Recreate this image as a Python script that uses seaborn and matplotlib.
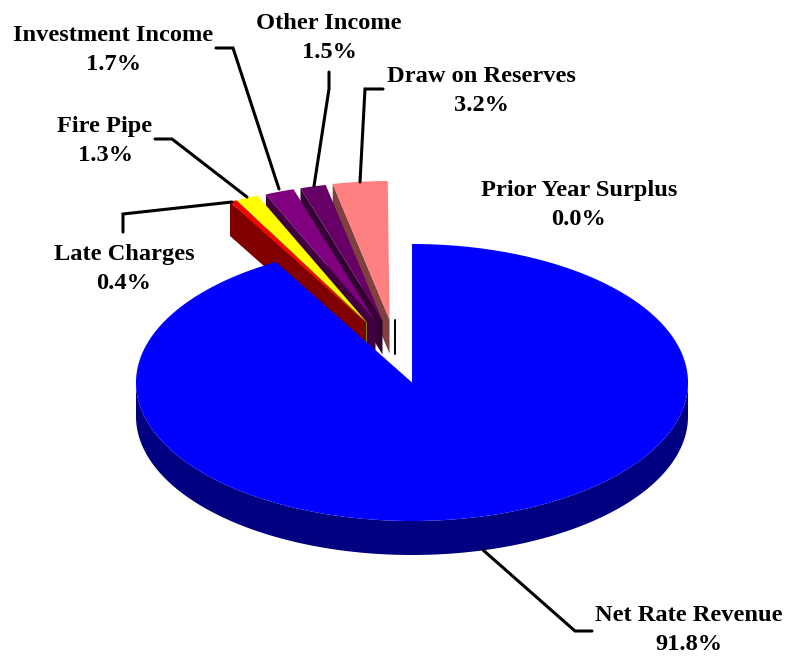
import numpy as np
import matplotlib
matplotlib.use("Agg")
import matplotlib.pyplot as plt
import seaborn as sns

labels = ["Net Rate Revenue", "Late Charges", "Fire Pipe", "Investment Income",
          "Other Income", "Draw on Reserves", "Prior Year Surplus"]
shares = [91.8, 0.4, 1.3, 1.7, 1.5, 3.2, 0.0]
tops = ["#0000ff", "#ff0000", "#ffff00", "#800080", "#660066", "#ff8080", "#000000"]
sides = ["#000080", "#800000", "#808000", "#400040", "#330033", "#804040", "#000000"]

# layout, in picture pixels
cx, cy = 412, 382.5
rx, ry = 276, 138.5
depth = 34
# how far each slice is pulled out of the pie
pull = [(0, 0), (-46, -60), (-45, -60), (-36.5, -61), (-29.5, -62), (-22.5, -63), (-17, -63)]
label_xy = [(689, 630), (124, 269), (105, 141), (113.5, 50), (329, 38), (481, 91), (579, 205)]
leaders = [[(483, 550), (575, 631), (592, 631)],
           [(232, 202), (123, 214), (123, 232)],
           [(247, 197), (172, 139), (155, 139)],
           [(279, 189), (233, 48), (216, 48)],
           [(314, 186), (329, 89), (329, 72)],
           [(360, 182), (365, 89), (383, 89)]]

sns.set_theme(style="white")
plt.rcParams["font.family"] = ["Liberation Serif", "DejaVu Serif"]


def rim(a0, a1, ox=0, oy=0, n=300):
    # points on the projected circle, angles clockwise from 12 o'clock
    t = np.radians(np.linspace(a0, a1, n))
    return cx + ox + rx * np.sin(t), cy + oy - ry * np.cos(t)


fig, ax = plt.subplots(figsize=(7.86, 6.56), dpi=100)
ax.set_position([0, 0, 1, 1])
ax.set_xlim(0, 786)
ax.set_ylim(656, 0)
ax.axis("off")

edges = np.cumsum([0] + shares) * 3.6

# exploded slices go back to front, so right to left
for i in range(len(shares) - 1, 0, -1):
    ox, oy = pull[i]
    ax_, ay_ = cx + ox, cy + oy
    x, y = rim(edges[i], edges[i + 1], ox, oy)
    if shares[i] == 0:
        ax.plot([ax_, ax_], [ay_, ay_ + depth], color=sides[i], lw=1.4, zorder=2)
        continue
    # cut face along the left edge and the apex
    ax.fill([ax_, x[0], x[0], ax_], [ay_, y[0], y[0] + depth, ay_ + depth],
            color=sides[i], lw=0, zorder=2)
    ax.fill(np.r_[ax_, x], np.r_[ay_, y], color=tops[i], lw=0, zorder=2)

# big slice with its rim
x, y = rim(90, 270)
ax.fill(np.r_[x, x[::-1]], np.r_[y, y[::-1] + depth], color=sides[0], lw=0, zorder=3)
x, y = rim(edges[0], edges[1])
ax.fill(np.r_[cx, x], np.r_[cy, y], color=tops[0], lw=0, zorder=4)

for pts in leaders:
    ax.plot(*zip(*pts), color="black", lw=2.2, solid_joinstyle="miter", zorder=5)

for name, val, (tx, ty) in zip(labels, shares, label_xy):
    ax.text(tx, ty, f"{name}\n{val:.1f}%", ha="center", va="center", color="black",
            fontsize=17.6, fontweight="bold", linespacing=1.52, zorder=6)

fig.savefig("out.png", dpi=100, facecolor="white")
